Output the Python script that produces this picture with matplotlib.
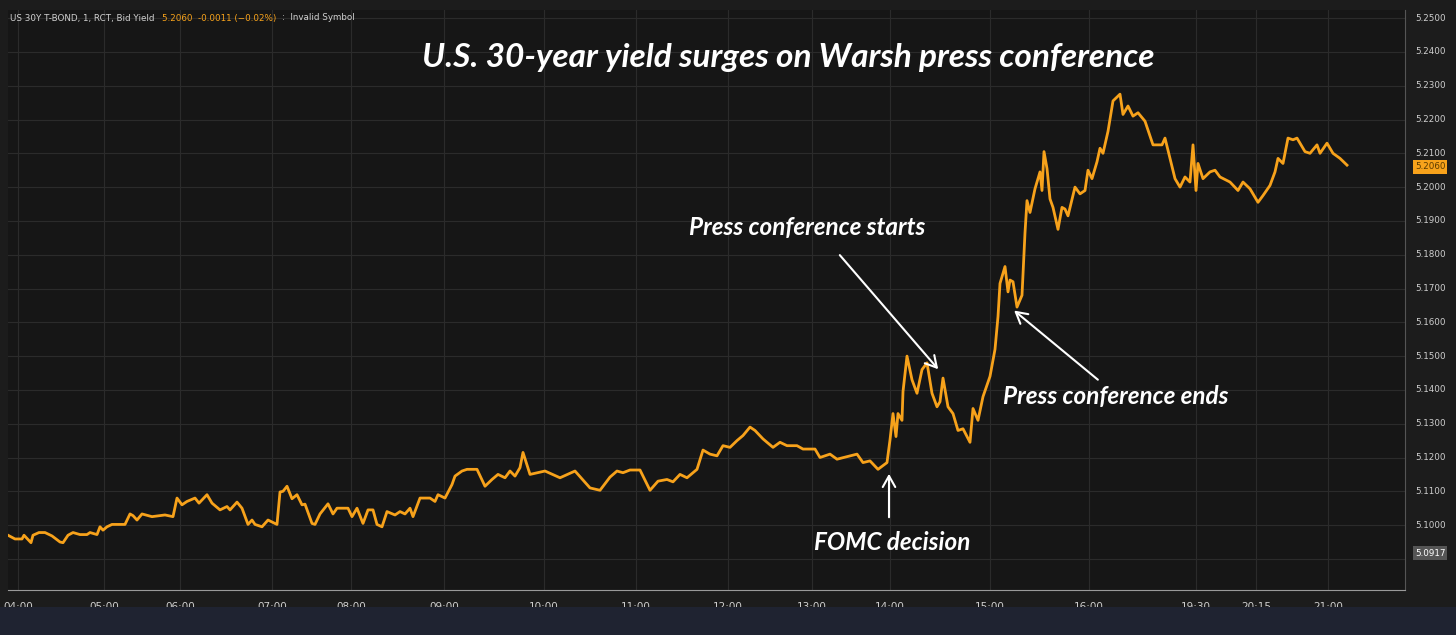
import matplotlib
matplotlib.use("Agg")
import matplotlib.pyplot as plt
import numpy as np

# bar position (session-compressed time axis) and bid yield
pos = [8, 15, 22, 24, 31, 33, 39, 45, 52, 60, 63, 68, 73, 80, 87, 90, 97, 100, 103, 107, 112, 125,
       130, 133, 137, 142, 152, 165, 173, 177, 182, 187, 195, 199, 207, 212, 220, 227, 230, 237,
       242, 248, 252, 255, 262, 268, 277, 280, 283, 287, 292, 297, 302, 305, 312, 315, 320, 328,
       333, 337, 348, 352, 357, 363, 368, 373, 377, 382, 387, 395, 400, 405, 410, 413, 420, 430,
       435, 438, 445, 452, 455, 462, 467, 477, 485, 492, 498, 505, 510, 515, 520, 523,
       530, 545, 560, 575, 590, 600, 610, 617, 623, 630, 640, 650, 658, 667, 673, 680, 687, 697,
       703, 710, 717, 723, 730, 737, 743, 750, 755, 763, 773, 780, 787, 797, 803, 815, 820, 830,
       837, 857, 863, 870, 878, 887, 890, 893, 896, 898, 902, 903, 907, 912, 917, 922, 927, 932,
       937, 940, 943, 948, 953, 958, 963, 970, 973, 978, 983, 990, 995, 998, 1000, 1005, 1008,
       1010, 1013, 1017, 1022, 1025, 1027, 1030, 1035, 1040, 1042, 1044, 1047, 1050, 1053, 1058,
       1062, 1065, 1068, 1075, 1080, 1085, 1088, 1092, 1097, 1100, 1103, 1108, 1113, 1120, 1123,
       1128, 1133, 1138, 1145, 1153, 1162, 1165, 1175, 1180, 1185, 1190, 1193, 1196, 1198, 1203,
       1210, 1215, 1220, 1230, 1238, 1243, 1250, 1258, 1263, 1270, 1275, 1278, 1283, 1288, 1293,
       1297, 1305, 1310, 1317, 1320, 1327, 1333, 1340, 1347]
yld = [5.0970, 5.0959, 5.0959, 5.0970, 5.0948, 5.0970, 5.0978, 5.0978, 5.0968, 5.0950, 5.0948,
       5.0970, 5.0978, 5.0972, 5.0972, 5.0978, 5.0972, 5.0995, 5.0985, 5.0995, 5.1002, 5.1002,
       5.1033, 5.1028, 5.1015, 5.1033, 5.1025, 5.1030, 5.1025, 5.1080, 5.1060, 5.1070, 5.1080,
       5.1065, 5.1090, 5.1065, 5.1045, 5.1055, 5.1045, 5.1068, 5.1050, 5.1002, 5.1015, 5.1002,
       5.0995, 5.1015, 5.1002, 5.1098, 5.1100, 5.1115, 5.1078, 5.1090, 5.1060, 5.1062, 5.1005,
       5.1002, 5.1033, 5.1063, 5.1033, 5.1050, 5.1050, 5.1025, 5.1050, 5.1005, 5.1045, 5.1045,
       5.1002, 5.0995, 5.1040, 5.1030, 5.1040, 5.1033, 5.1050, 5.1025, 5.1080, 5.1080, 5.1070,
       5.1090, 5.1080, 5.1120, 5.1145, 5.1160, 5.1165, 5.1165, 5.1115, 5.1135, 5.1150, 5.1140,
       5.1160, 5.1145, 5.1170, 5.1215,
       5.1150, 5.1160, 5.1140, 5.1160, 5.1110, 5.1103, 5.1142, 5.1160, 5.1155, 5.1163, 5.1163,
       5.1103, 5.1130, 5.1135, 5.1128, 5.1150, 5.1140, 5.1165, 5.1222, 5.1210, 5.1205, 5.1235,
       5.1230, 5.1250, 5.1265, 5.1290, 5.1280, 5.1255, 5.1230, 5.1245, 5.1235, 5.1235, 5.1225,
       5.1225, 5.1200, 5.1210, 5.1195, 5.1210, 5.1185, 5.1190, 5.1165, 5.1185, 5.1252, 5.1330,
       5.1262, 5.1330, 5.1310, 5.1395, 5.1500, 5.1430, 5.1390, 5.1460, 5.1480, 5.1390, 5.1350,
       5.1365, 5.1435, 5.1350, 5.1330, 5.1280, 5.1285, 5.1245, 5.1345, 5.1310, 5.1380, 5.1440,
       5.1520, 5.1617, 5.1715, 5.1765, 5.1690, 5.1725, 5.1720, 5.1645, 5.1680, 5.1865, 5.1960,
       5.1925, 5.1995, 5.2045, 5.1990, 5.2105, 5.2055, 5.1965, 5.1940, 5.1875, 5.1940, 5.1935,
       5.1915, 5.2000, 5.1980, 5.1990, 5.2050, 5.2025, 5.2075, 5.2115, 5.2100, 5.2165, 5.2255,
       5.2275, 5.2215, 5.2240, 5.2210, 5.2220, 5.2195, 5.2125, 5.2125, 5.2145, 5.2025, 5.2000,
       5.2030, 5.2015, 5.2125, 5.1990, 5.2070, 5.2025, 5.2045, 5.2050, 5.2030, 5.2015, 5.1990,
       5.2015, 5.1995, 5.1955, 5.1975, 5.2005, 5.2045, 5.2085, 5.2070, 5.2145, 5.2140, 5.2145,
       5.2105, 5.2100, 5.2125, 5.2100, 5.2130, 5.2100, 5.2085, 5.2065]

tick_pos = [18, 104, 180, 272, 351, 444, 544, 636, 728, 812, 890, 990, 1089, 1196, 1256, 1328]
tick_lab = ["04:00", "05:00", "06:00", "07:00", "08:00", "09:00", "10:00", "11:00", "12:00",
            "13:00", "14:00", "15:00", "16:00", "19:30", "20:15", "21:00"]
y_ticks = np.arange(5.09, 5.2501, 0.01)

BG = "#161616"
ORANGE = "#f7a21b"

fig = plt.figure(figsize=(14.56, 6.35), dpi=100, facecolor="#1c1c1c")
ax = fig.add_axes([8 / 1456, 45 / 635, 1397 / 1456, 580 / 635])
ax.set_facecolor(BG)
ax.plot(pos, yld, color=ORANGE, lw=2.0, solid_joinstyle="round")
ax.set_xlim(8, 1405)
ax.set_ylim(5.0808, 5.2524)
ax.set_xticks(tick_pos)
ax.set_yticks(y_ticks)
ax.grid(color="#2b2b2b", lw=0.8)
ax.tick_params(length=0, labelleft=False, labelbottom=False)
for s in ax.spines.values():
    s.set_visible(False)
ax.spines["bottom"].set_visible(True)
ax.spines["bottom"].set_color("#9a9a9a")
ax.spines["right"].set_visible(True)
ax.spines["right"].set_color("#555555")

for p, l in zip(tick_pos, tick_lab):
    ax.text(p, -0.02, l, transform=ax.get_xaxis_transform(), ha="center", va="top",
            color="#cfcfcf", fontsize=7.5, family=["Liberation Sans Narrow", "DejaVu Sans"])
yt = ax.get_yaxis_transform()
for v in y_ticks:
    if abs(v - 5.09) < 1e-6:
        continue
    ax.text(1.007, v, f"{v:.4f}", transform=yt, ha="left", va="center",
            color="#cfcfcf", fontsize=6.3)
ax.text(1.007, 5.2060, "5.2060", transform=yt, ha="left", va="center",
        color="#5a3a00", fontsize=6.3, bbox=dict(boxstyle="square,pad=0.25", fc=ORANGE, ec="none"))
ax.text(1.007, 5.0917, "5.0917", transform=yt, ha="left", va="center",
        color="white", fontsize=6.3, bbox=dict(boxstyle="square,pad=0.25", fc="#555555", ec="none"))

fig.text(10 / 1456, 1 - 18 / 635, "US 30Y T-BOND, 1, RCT, Bid Yield", color="#d0d0d0",
         fontsize=6.3, va="center")
fig.text(162 / 1456, 1 - 18 / 635, "5.2060  -0.0011 (\u22120.02%)", color=ORANGE,
         fontsize=6.3, va="center")
fig.text(282 / 1456, 1 - 18 / 635, ":  Invalid Symbol", color="#d0d0d0", fontsize=6.3, va="center")

# bottom strip
fig.patches.append(plt.Rectangle((0, 0), 1, 28 / 635, transform=fig.transFigure,
                                 fc="#1f2331", ec="none"))

tfont = dict(color="white", family=["Lato", "DejaVu Sans"], style="italic", weight="bold")
fig.text(788 / 1456, 1 - 58 / 635, "U.S. 30-year yield surges on Warsh press conference",
         ha="center", va="center", fontsize=24, **tfont)

arr = dict(arrowstyle="->,head_length=0.8,head_width=0.45", color="white", lw=1.5)
ax.annotate("", xy=(940, 5.1455), xytext=(838, 5.1805), arrowprops=arr)
ax.text(807, 5.1880, "Press conference starts", ha="center", va="center", fontsize=17.5, **tfont)
ax.annotate("", xy=(1012, 5.1640), xytext=(1100, 5.1425), arrowprops=arr)
ax.text(1116, 5.1380, "Press conference ends", ha="center", va="center", fontsize=17.5, **tfont)
ax.annotate("", xy=(889, 5.1160), xytext=(889, 5.1015), arrowprops=arr)
ax.text(892, 5.0950, "FOMC decision", ha="center", va="center", fontsize=17.5, **tfont)

fig.savefig("out.png", dpi=100, facecolor=fig.get_facecolor())
